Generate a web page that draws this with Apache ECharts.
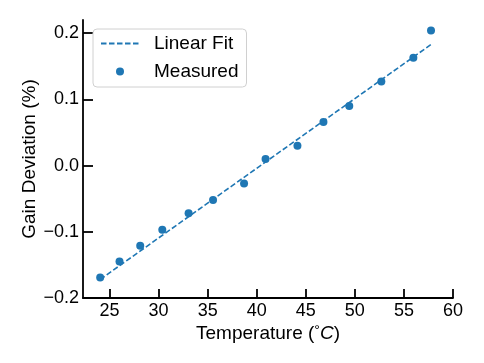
<!DOCTYPE html>
<html>
<head>
<meta charset="utf-8">
<script src="https://cdn.jsdelivr.net/npm/echarts@6/dist/echarts.min.js"></script>
<style>
  html, body { margin: 0; padding: 0; background: #fff; }
  #chart { width: 484px; height: 363px; }
</style>
</head>
<body>
<div id="chart"></div>
<script>
// measured points
const temps = [24.05, 26.02, 28.13, 30.38, 33.06, 35.55, 38.71, 40.9, 44.15, 46.8, 49.43, 52.7, 55.96, 57.76];
const deviations = [-0.169, -0.145, -0.121, -0.097, -0.072, -0.052, -0.027, 0.010, 0.030, 0.066, 0.090, 0.127, 0.163, 0.204];
// fitted line end points
const fitX = [24.05, 57.76];
const fitY = [-0.172, 0.183];
const xTicks = [25, 30, 35, 40, 45, 50, 55, 60];
const yTicks = [-0.2, -0.1, 0, 0.1, 0.2];

const blue = '#1f77b4';
const font = 'Liberation Sans, Arial, sans-serif';
const minus = v => String(v).replace('-', '\u2212');

const chart = echarts.init(document.getElementById('chart'));
chart.setOption({
  animation: false,
  grid: { left: 83, right: 31, top: 20, bottom: 65 },
  legend: {
    orient: 'vertical',
    left: 93,
    top: 29,
    padding: [5, 8, 6, 7],
    borderColor: '#d0d0d0',
    borderWidth: 1,
    borderRadius: 4,
    itemWidth: 38,
    itemHeight: 8,
    itemGap: 9,
    textStyle: { fontFamily: font, fontSize: 19, color: '#000', lineHeight: 19, padding: [0, 0, 0, 10] },
    data: [
      { name: 'Linear Fit', itemStyle: { opacity: 0 } },
      'Measured'
    ]
  },
  xAxis: {
    type: 'value',
    min: 22.3,
    max: 60,
    name: '{n|Temperature (}{s|°}{i|C}{n|)}',
    nameLocation: 'middle',
    nameGap: 26,
    nameMoveOverlap: false,
    nameTextStyle: {
      rich: {
        n: { fontFamily: font, fontSize: 19, color: '#000' },
        s: { fontFamily: font, fontSize: 14, color: '#000', verticalAlign: 'top', padding: [0, 0, 4, 0] },
        i: { fontFamily: font, fontSize: 19, color: '#000', fontStyle: 'italic' }
      }
    },
    splitLine: { show: false },
    axisLine: { onZero: false, lineStyle: { color: '#000', width: 1.8 } },
    axisTick: { inside: true, length: 9, lineStyle: { width: 1.8 }, customValues: xTicks },
    axisLabel: { customValues: xTicks, fontFamily: font, fontSize: 18, color: '#000', margin: 4 }
  },
  yAxis: {
    type: 'value',
    min: -0.2,
    max: 0.22,
    name: 'Gain Deviation (%)',
    nameLocation: 'middle',
    nameGap: 44,
    nameMoveOverlap: false,
    nameTextStyle: { fontFamily: font, fontSize: 19, color: '#000' },
    splitLine: { show: false },
    axisLine: { show: true, onZero: false, lineStyle: { color: '#000', width: 1.8 } },
    axisTick: { show: true, inside: true, length: 10, lineStyle: { width: 1.8 }, customValues: yTicks },
    axisLabel: {
      customValues: yTicks, fontFamily: font, fontSize: 18, color: '#000', margin: 4,
      formatter: v => minus(v.toFixed(1))
    }
  },
  series: [
    {
      name: 'Linear Fit',
      type: 'line',
      symbol: 'none',
      data: fitX.map((x, i) => [x, fitY[i]]),
      lineStyle: { color: blue, width: 1.6, type: [5.5, 2.5] },
      itemStyle: { color: blue }
    },
    {
      name: 'Measured',
      type: 'scatter',
      symbolSize: 8,
      data: temps.map((t, i) => [t, deviations[i]]),
      itemStyle: { color: blue, opacity: 1 }
    }
  ]
});
</script>
</body>
</html>
